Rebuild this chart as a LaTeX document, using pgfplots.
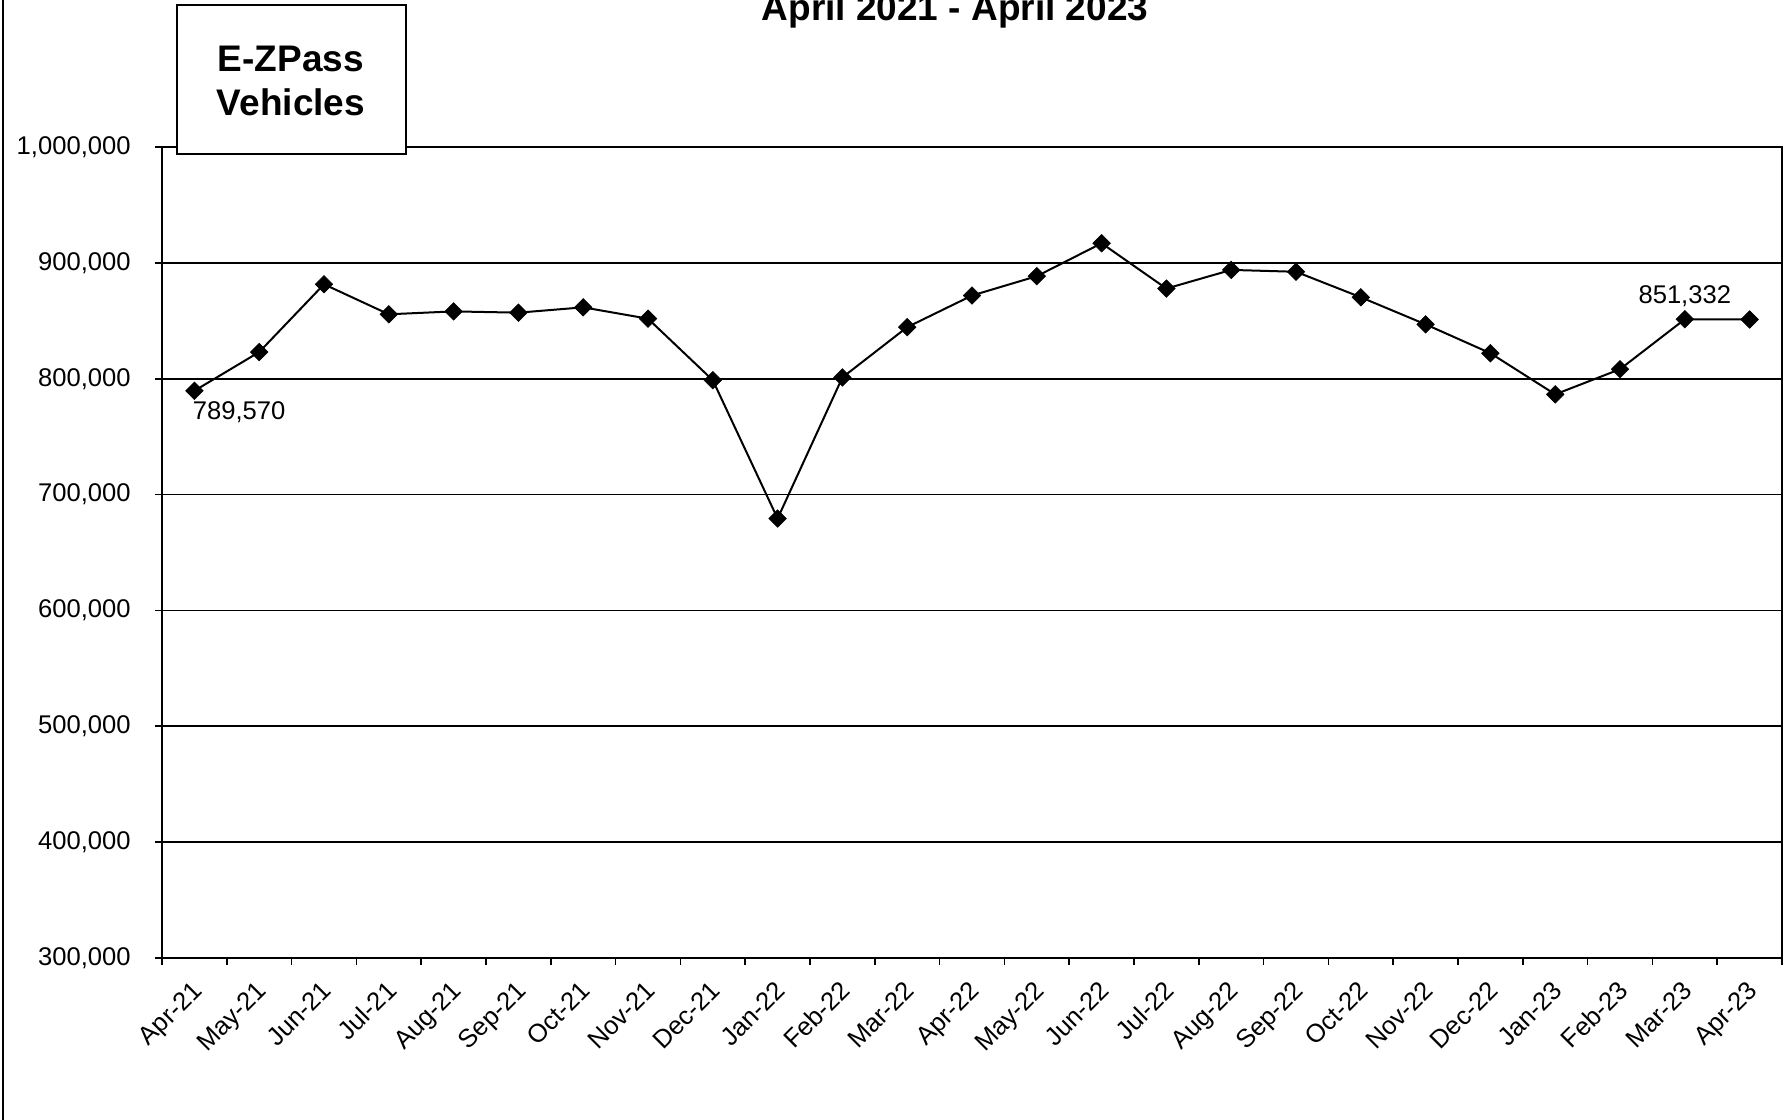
\documentclass[border=0pt]{standalone}
\usepackage{pgfplots}
\pgfplotsset{compat=1.18}
\usepackage{fontspec}
\setmainfont{Liberation Sans}
\begin{document}
\begin{tikzpicture}
\pgfplotstableread{
idx val
0 789570
1 823000
2 881500
3 855600
4 858100
5 857000
6 861600
7 851800
8 798700
9 679300
10 801100
11 844500
12 871800
13 888500
14 916900
15 877800
16 893900
17 892300
18 870300
19 846900
20 822000
21 786500
22 808200
23 851332
24 851100
}\datatable
\begin{axis}[
  at={(81pt,81pt)}, anchor=south west,
  width=810pt, height=405.5pt, scale only axis,
  xmin=-0.5, xmax=24.5, ymin=300000, ymax=1000000,
  axis line style={black, line width=1.2pt},
  xtick pos=bottom, ytick pos=left,
  scaled y ticks=false,
  xtick={0,...,24},
  xticklabels={Apr-21,May-21,Jun-21,Jul-21,Aug-21,Sep-21,Oct-21,Nov-21,Dec-21,Jan-22,Feb-22,Mar-22,Apr-22,May-22,Jun-22,Jul-22,Aug-22,Sep-22,Oct-22,Nov-22,Dec-22,Jan-23,Feb-23,Mar-23,Apr-23},
  minor xtick={-0.5,0.5,...,24.5},
  major x tick style={draw=none},
  minor x tick style={black, line width=0.8pt},
  minor tick length=3.5pt,
  major tick length=3.5pt,
  tick align=outside,
  ytick={300000,400000,500000,600000,700000,800000,900000,1000000},
  yticklabels={{300,000},{400,000},{500,000},{600,000},{700,000},{800,000},{900,000},{1,000,000}},
  ytick style={black, line width=0.8pt},
  ymajorgrids=true,
  grid style={black, line width=0.9pt},
  x tick label style={font=\fontsize{12.8}{15}\selectfont, xshift=-1.9pt, yshift=-6.9pt, rotate=45, anchor=north east, inner sep=0pt},
  y tick label style={font=\fontsize{12.8}{15}\selectfont, inner sep=0pt, xshift=-12pt},
  clip=false,
]
\addplot[black, line width=1pt, mark=square*, mark size=3.1pt, mark options={rotate=45, fill=black, line width=0.3pt}] table[x=idx, y=val] {\datatable};
\node[anchor=north west, inner sep=0pt, font=\fontsize{12.8}{15}\selectfont] at ([xshift=-1pt,yshift=-5pt]axis cs:0,789570) {789,570};
\node[anchor=base, inner sep=0pt, font=\fontsize{12.8}{15}\selectfont] at ([yshift=8pt]axis cs:23,851332) {851,332};
\end{axis}
\draw[line width=1pt] (1.5pt,0pt) -- (1.5pt,560pt);
\draw[fill=white, line width=0.75pt] (88.5pt,483pt) rectangle (203pt,557.5pt);
\node[align=center, font=\fontsize{18.5}{22}\bfseries\selectfont, inner sep=0pt] at (145.5pt,519.5pt) {E-ZPass\\Vehicles};
\node[anchor=base, font=\fontsize{18.5}{22}\bfseries\selectfont, inner sep=0pt] at (477.5pt,549.75pt) {April 2021 - April 2023};
\pgfresetboundingbox
\path (0pt,0pt) rectangle (895pt,560pt);
\end{tikzpicture}
\end{document}
